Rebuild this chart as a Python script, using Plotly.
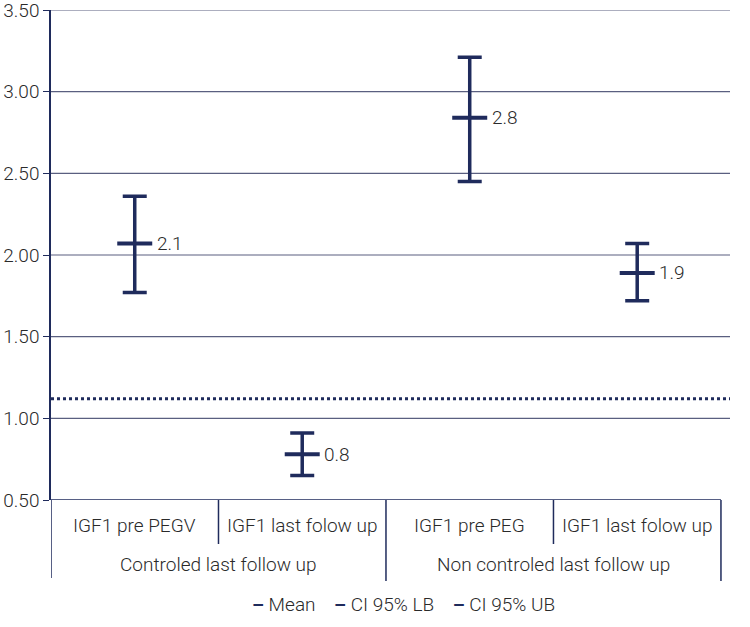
import plotly.graph_objects as go

# Data
sub_labels = ["IGF1 pre PEGV", "IGF1 last folow up", "IGF1 pre PEG", "IGF1 last folow up"]
group_labels = ["Controled last follow up", "Non controled last follow up"]
mean_vals = [2.07, 0.78, 2.84, 1.89]
lb_vals = [1.77, 0.65, 2.45, 1.72]
ub_vals = [2.36, 0.91, 3.21, 2.07]
mean_text = ["2.1", "0.8", "2.8", "1.9"]
ref_line = 1.12
y_ticks = [0.5, 1.0, 1.5, 2.0, 2.5, 3.0, 3.5]
legend_items = ["Mean", "CI 95% LB", "CI 95% UB"]

NAVY = "#1f2b5c"
GRID = "#5a5f80"
TXT = "#2a2a2a"
FONT = "Roboto, sans-serif"
FS = 19

xs = list(range(len(mean_vals)))
err_plus = [u - m for u, m in zip(ub_vals, mean_vals)]
err_minus = [m - l for m, l in zip(mean_vals, lb_vals)]

fig = go.Figure()
fig.add_trace(go.Scatter(
    x=xs, y=mean_vals, mode="markers",
    marker=dict(symbol="line-ew", size=25, color=NAVY, line=dict(width=4, color=NAVY)),
    error_y=dict(type="data", symmetric=False, array=err_plus, arrayminus=err_minus,
                 color=NAVY, thickness=3.5, width=12),
    showlegend=False, cliponaxis=False, hoverinfo="skip",
))

shapes = []
for t in y_ticks[1:]:
    shapes.append(dict(type="line", xref="paper", yref="y", x0=0, x1=1, y0=t, y1=t,
                       line=dict(color=GRID, width=1.2), layer="below"))
shapes.append(dict(type="line", xref="x", yref="y", x0=-0.5, x1=3.5, y0=0.5, y1=0.5,
                   line=dict(color=NAVY, width=1.5)))
shapes.append(dict(type="line", xref="paper", yref="y", x0=0, x1=1, y0=ref_line, y1=ref_line,
                   line=dict(color=NAVY, width=3, dash="dot")))
plot_h = 490.0
for xv, depth in [(0.5, 44), (2.5, 44), (1.5, 81), (-0.5, 78), (3.5, 81)]:
    shapes.append(dict(type="line", xref="x", yref="paper", x0=xv, x1=xv, y0=0,
                       y1=-depth / plot_h, line=dict(color=NAVY, width=1.5)))

lab_font = dict(size=FS, color=TXT, family=FONT, weight=300)
annotations = []
for x, y, t in zip(xs, mean_vals, mean_text):
    annotations.append(dict(x=x, y=y, xref="x", yref="y", text=t, showarrow=False,
                            xanchor="left", yanchor="middle", xshift=20, font=lab_font))
for i, lab in enumerate(sub_labels):
    annotations.append(dict(x=i, y=0, xref="x", yref="paper", yshift=-25, text=lab,
                            showarrow=False, font=lab_font, yanchor="middle"))
for j, lab in enumerate(group_labels):
    annotations.append(dict(x=0.5 + 2 * j, y=0, xref="x", yref="paper", yshift=-64, text=lab,
                            showarrow=False, font=lab_font, yanchor="middle"))
legend_text = "&nbsp;&nbsp;&nbsp;&nbsp;".join(
    f"<b><span style='color:{NAVY}'>–</span></b> {it}" for it in legend_items)
annotations.append(dict(x=(403 - 51) / 679, y=0, xref="paper", yref="paper", yshift=-104,
                        text=legend_text, showarrow=False, font=lab_font, yanchor="middle"))

fig.update_layout(
    width=750, height=627,
    margin=dict(l=51, r=20, t=10, b=127, autoexpand=False),
    paper_bgcolor="white", plot_bgcolor="white",
    font=dict(family=FONT, color=TXT, size=FS),
    hovermode=False,
    xaxis=dict(range=[-0.5, 3.554], showgrid=False, zeroline=False, showticklabels=False,
               showline=False, ticks="", automargin=False),
    yaxis=dict(range=[0.5, 3.5], tickvals=y_ticks, tickformat=".2f", showgrid=False,
               zeroline=False, showline=True, linecolor=NAVY, linewidth=1.5,
               ticks="outside", ticklen=6, tickcolor=NAVY, automargin=False,
               ticklabeloverflow="allow", tickfont=lab_font),
    shapes=shapes, annotations=annotations,
)

fig.write_html("out.html", config={"displayModeBar": False},
               post_script="document.body.style.margin='0';")
